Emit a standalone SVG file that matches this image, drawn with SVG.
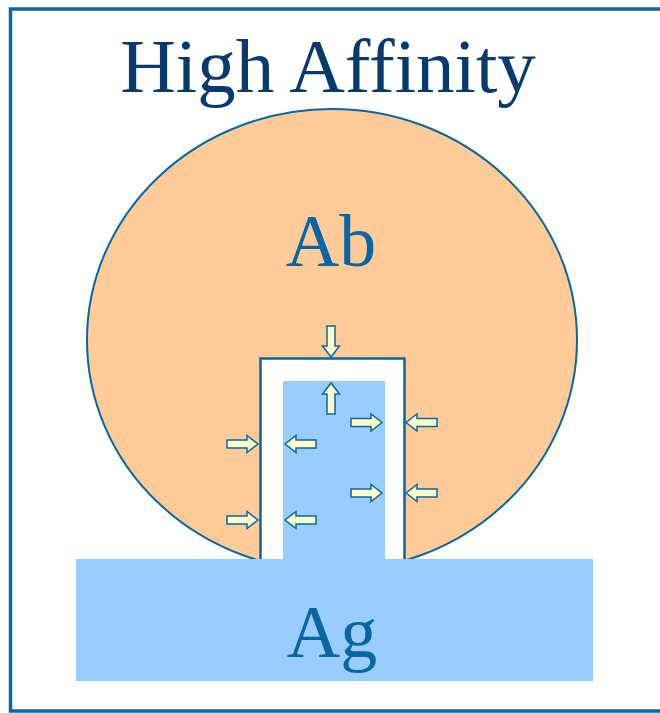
<svg xmlns="http://www.w3.org/2000/svg" width="660" height="713" viewBox="0 0 660 713">
<style>
.frame{fill:none;stroke:#10689c;stroke-width:3.5}
.title{fill:#0a3a6c;font-size:77px}
.big{fill:#0a66a0;font-size:74px}
.arr{fill:#ffffcc;stroke:#0a66a0;stroke-width:1.5;stroke-linejoin:miter}
</style>
<defs>
<path id="ar" d="M0,-4 H20 V-8.5 L31,0 L20,8.5 V4 H0 Z"/>
</defs>
<rect x="0" y="0" width="660" height="713" fill="#ffffff"/>
<path class="frame" d="M670,9 H10.5 V711 H670"/>
<g id="title">
<text class="title" x="328" y="92" font-family="Liberation Serif, Times New Roman, serif" text-anchor="middle">High Affinity</text>
</g>
<g id="Ab">
<ellipse cx="332" cy="340" rx="245" ry="231" fill="#ffcc99" stroke="#0a66a0" stroke-width="2"/>
<text class="big" x="331" y="266" font-family="Liberation Serif, Times New Roman, serif" text-anchor="middle">Ab</text>
</g>
<g id="pocket">
<rect x="260.5" y="358.5" width="144" height="220" fill="#ffffff" stroke="#0a66a0" stroke-width="2.5"/>
<rect x="283" y="381" width="102" height="190" fill="#99ccff"/>
</g>
<g id="Ag">
<rect x="76" y="559" width="517" height="122" fill="#99ccff"/>
<text class="big" x="332" y="657" font-family="Liberation Serif, Times New Roman, serif" text-anchor="middle">Ag</text>
</g>
<g id="arrows">
<use href="#ar" class="arr" transform="translate(331,326) rotate(90)"/>
<use href="#ar" class="arr" transform="translate(331,414) rotate(-90)"/>
<use href="#ar" class="arr" transform="translate(351,422.5)"/>
<use href="#ar" class="arr" transform="translate(437,422.5) rotate(180)"/>
<use href="#ar" class="arr" transform="translate(227,444)"/>
<use href="#ar" class="arr" transform="translate(316,444) rotate(180)"/>
<use href="#ar" class="arr" transform="translate(351,493)"/>
<use href="#ar" class="arr" transform="translate(437,493) rotate(180)"/>
<use href="#ar" class="arr" transform="translate(227,520)"/>
<use href="#ar" class="arr" transform="translate(316,520) rotate(180)"/>
</g>
</svg>
